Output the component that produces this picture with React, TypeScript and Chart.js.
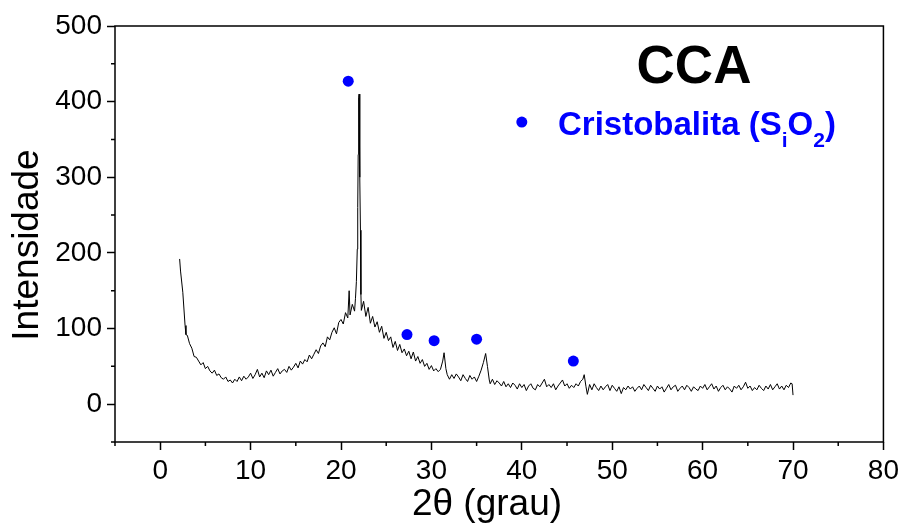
import { useEffect, useRef } from 'react';
import { Chart, registerables } from 'chart.js';

Chart.register(...registerables);

// 2θ (degrees) of the scan
const twoTheta: number[] = [
  2.15, 2.25, 2.5, 2.75, 2.85,
  3, 3.25, 3.5, 3.75,
  4, 4.25, 4.5, 4.75,
  5, 5.25, 5.5, 5.75,
  6, 6.25, 6.5, 6.75,
  7, 7.25, 7.5, 7.75,
  8, 8.25, 8.5, 8.75,
  9, 9.25, 9.5, 9.75,
  10, 10.25, 10.5, 10.75,
  11, 11.25, 11.5, 11.75,
  12, 12.25, 12.5, 12.75,
  13, 13.25, 13.5, 13.75,
  14, 14.25, 14.5, 14.75,
  15, 15.25, 15.5, 15.75,
  16, 16.25, 16.5, 16.75,
  17, 17.25, 17.5, 17.75,
  18, 18.25, 18.5, 18.75,
  19, 19.25, 19.5, 19.75,
  20, 20.25, 20.5, 20.75, 20.9,
  21, 21.25, 21.5, 21.6, 21.7, 21.8, 21.85, 21.9, 21.95,
  22, 22.05, 22.1, 22.15, 22.2, 22.25, 22.5, 22.75,
  23, 23.25, 23.5, 23.75,
  24, 24.25, 24.5, 24.75,
  25, 25.25, 25.5, 25.75,
  26, 26.25, 26.5, 26.75,
  27, 27.25, 27.5, 27.75,
  28, 28.25, 28.5, 28.75,
  29, 29.25, 29.5, 29.75,
  30, 30.25, 30.5, 30.75,
  31, 31.25, 31.4, 31.6, 31.75,
  32, 32.25, 32.5, 32.75,
  33, 33.25, 33.5, 33.75,
  34, 34.25, 34.5, 34.75,
  35, 35.25, 35.5, 35.75, 36, 36.2, 36.4, 36.5, 36.75,
  37, 37.25, 37.5, 37.75,
  38, 38.25, 38.5, 38.75,
  39, 39.25, 39.5, 39.75,
  40, 40.25, 40.5, 40.75,
  41, 41.25, 41.5, 41.75,
  42, 42.25, 42.5, 42.75,
  43, 43.25, 43.5, 43.75,
  44, 44.25, 44.5, 44.75,
  45, 45.25, 45.5, 45.75,
  46, 46.25, 46.5, 46.75, 46.9, 47.1, 47.25, 47.5, 47.75,
  48, 48.25, 48.5, 48.75,
  49, 49.25, 49.5, 49.75,
  50, 50.25, 50.5, 50.75,
  51, 51.25, 51.5, 51.75,
  52, 52.25, 52.5, 52.75,
  53, 53.25, 53.5, 53.75,
  54, 54.25, 54.5, 54.75,
  55, 55.25, 55.5, 55.75,
  56, 56.25, 56.5, 56.75,
  57, 57.25, 57.5, 57.75,
  58, 58.25, 58.5, 58.75,
  59, 59.25, 59.5, 59.75,
  60, 60.25, 60.5, 60.75,
  61, 61.25, 61.5, 61.75,
  62, 62.25, 62.5, 62.75,
  63, 63.25, 63.5, 63.75,
  64, 64.25, 64.5, 64.75,
  65, 65.25, 65.5, 65.75,
  66, 66.25, 66.5, 66.75,
  67, 67.25, 67.5, 67.75,
  68, 68.25, 68.5, 68.75,
  69, 69.25, 69.5, 69.75, 69.9, 70,
];

// Intensity (same order as twoTheta)
const intensity: number[] = [
  192, 176, 148, 104, 92,
  91, 80, 74, 63,
  62, 57, 52, 55,
  47, 50, 44, 41,
  45, 38, 40, 35,
  33, 36, 30, 32,
  28, 33, 30, 36,
  31, 37, 33, 36,
  41, 34, 39, 46,
  36, 41, 35, 44,
  39, 45, 37, 42,
  47, 40, 44, 46,
  42, 50, 45, 49,
  54, 48, 57, 53,
  59, 56, 65, 60,
  66, 72, 67, 77,
  81, 76, 89, 85,
  95, 101, 93, 108,
  112, 106, 121, 114, 150,
  118, 132, 123, 140, 162, 205, 260, 330, 405,
  410, 395, 300, 230, 145, 124, 136, 116,
  128, 107, 116, 102,
  109, 95, 103, 87,
  95, 84, 89, 75,
  83, 71, 79, 68,
  73, 64, 70, 60,
  69, 57, 63, 54,
  59, 50, 54, 46,
  51, 44, 47, 43,
  46, 57, 68, 47, 39,
  33, 39, 34, 40,
  36, 31, 39, 34,
  30, 38, 33, 36,
  30, 37, 45, 55, 67, 50, 32, 27, 33,
  26, 31, 28, 24,
  30, 23, 27, 22,
  28, 25, 20, 27,
  22, 26, 18, 24,
  27, 21, 19, 26,
  23, 28, 33, 23,
  26, 22, 27, 19,
  24, 28, 32, 24,
  27, 21, 25, 22,
  27, 24, 30, 33, 39, 23, 13, 26, 19,
  27, 22, 18, 24,
  19, 23, 26, 18,
  25, 21, 17, 23,
  14, 22, 19, 24,
  20, 23, 17, 21,
  24, 19, 26, 22,
  18, 25, 21, 17,
  24, 20, 23, 16,
  21, 26, 19, 23,
  25, 17, 21, 24,
  19, 25, 22, 17,
  23, 20, 18, 24,
  21, 26, 19, 23,
  27, 20, 24, 17,
  22, 25, 19, 23,
  20, 16, 24, 21,
  25, 19, 23, 29,
  21, 24, 18, 22,
  19, 25, 21, 18,
  24, 20, 26, 19,
  23, 27, 20, 24,
  19, 25, 22, 28, 27, 12,
];

// Cristobalita markers
const markTheta: number[] = [20.8, 27.3, 30.3, 35.0, 45.7];
const markIntensity: number[] = [427, 92, 84, 86, 57];

// Legend marker position (data units)
const legendMarkTheta: number[] = [40.0];
const legendMarkIntensity: number[] = [373];

const xRange: number[] = [-5, 80];
const yRange: number[] = [-50, 500];
const xMajorTicks: number[] = [0, 10, 20, 30, 40, 50, 60, 70, 80];
const xTickLabels: string[] = ['0', '10', '20', '30', '40', '50', '60', '70', '80'];
const xMinorTicks: number[] = [-5, 5, 15, 25, 35, 45, 55, 65, 75];
const yMajorTicks: number[] = [0, 100, 200, 300, 400, 500];
const yTickLabels: string[] = ['0', '100', '200', '300', '400', '500'];
const yMinorTicks: number[] = [-50, 50, 150, 250, 350, 450];

const chartTitle = 'CCA';
const legendParts: { text: string; sub: boolean }[] = [
  { text: 'Cristobalita (S', sub: false },
  { text: 'i', sub: true },
  { text: 'O', sub: false },
  { text: '2', sub: true },
  { text: ')', sub: false },
];
const xTitle = '2θ (grau)';
const yTitle = 'Intensidade';

const FONT = '"Liberation Sans", Arial, Helvetica, sans-serif';

export default function App() {
  const ref = useRef<HTMLCanvasElement>(null);

  useEffect(() => {
    document.body.style.margin = '0';
    const canvas = ref.current;
    if (!canvas) return;

    const n = Math.min(twoTheta.length, intensity.length);
    const lineData = [] as { x: number; y: number }[];
    for (let i = 0; i < n; i++) lineData.push({ x: twoTheta[i], y: intensity[i] });
    const marks = markTheta.map((x, i) => ({ x, y: markIntensity[i] }));
    const legendMark = legendMarkTheta.map((x, i) => ({ x, y: legendMarkIntensity[i] }));

    const decor = {
      id: 'decor',
      afterDraw(chart: any) {
        const { ctx, chartArea } = chart;
        const xs = chart.scales.x;
        const ys = chart.scales.y;
        ctx.save();
        // frame
        ctx.strokeStyle = '#000';
        ctx.lineWidth = 1.5;
        ctx.strokeRect(chartArea.left, chartArea.top, chartArea.right - chartArea.left, chartArea.bottom - chartArea.top);
        // minor ticks
        ctx.beginPath();
        xMinorTicks.forEach((v) => {
          const px = xs.getPixelForValue(v);
          ctx.moveTo(px, chartArea.bottom);
          ctx.lineTo(px, chartArea.bottom + 4);
        });
        yMinorTicks.forEach((v) => {
          const py = ys.getPixelForValue(v);
          ctx.moveTo(chartArea.left - 4, py);
          ctx.lineTo(chartArea.left, py);
        });
        ctx.stroke();

        // title
        ctx.fillStyle = '#000';
        ctx.font = `bold 53px ${FONT}`;
        ctx.textAlign = 'center';
        ctx.textBaseline = 'alphabetic';
        ctx.fillText(chartTitle, 694, 83);

        // legend text
        ctx.fillStyle = '#0000ff';
        ctx.textAlign = 'left';
        let lx = 558;
        legendParts.forEach((p) => {
          ctx.font = p.sub ? `bold 21px ${FONT}` : `bold 33px ${FONT}`;
          ctx.fillText(p.text, lx, p.sub ? 147 : 135);
          lx += ctx.measureText(p.text).width;
        });

        // axis titles
        ctx.fillStyle = '#000';
        ctx.font = `37px ${FONT}`;
        ctx.textAlign = 'center';
        ctx.fillText(xTitle, 487, 515);

        ctx.translate(28, 245);
        ctx.rotate(-Math.PI / 2);
        ctx.textBaseline = 'middle';
        ctx.fillText(yTitle, 0, 0);
        ctx.restore();
      },
    };

    const chart = new Chart(canvas, {
      type: 'scatter',
      data: {
        datasets: [
          {
            type: 'scatter',
            data: marks,
            pointRadius: 5.5,
            backgroundColor: '#0000ff',
            borderWidth: 0,
            order: 1,
          },
          {
            type: 'scatter',
            data: legendMark,
            pointRadius: 5.5,
            backgroundColor: '#0000ff',
            borderWidth: 0,
            order: 1,
          },
          {
            type: 'line',
            data: lineData,
            borderColor: '#000',
            borderWidth: 1,
            pointRadius: 0,
            tension: 0,
            fill: false,
            order: 2,
          } as any,
        ],
      },
      options: {
        animation: false,
        responsive: false,
        events: [],
        layout: { padding: { top: 26, right: 18, left: 0, bottom: 0 } },
        plugins: {
          legend: { display: false },
          tooltip: { enabled: false },
          title: { display: false },
        },
        scales: {
          x: {
            type: 'linear',
            min: xRange[0],
            max: xRange[1],
            afterBuildTicks: (s: any) => {
              s.ticks = xMajorTicks.map((v) => ({ value: v }));
            },
            afterFit: (s: any) => {
              s.height = 86;
            },
            grid: {
              display: true,
              drawOnChartArea: false,
              drawTicks: true,
              tickLength: 8,
              tickColor: '#000',
              tickWidth: 1.5,
            },
            border: { display: false },
            ticks: {
              color: '#000',
              font: { family: FONT, size: 28 },
              padding: 4,
              maxRotation: 0,
              autoSkip: false,
              callback: (v: any) => {
                const i = xMajorTicks.indexOf(Number(v));
                return i >= 0 ? xTickLabels[i] : '';
              },
            },
          },
          y: {
            type: 'linear',
            min: yRange[0],
            max: yRange[1],
            afterBuildTicks: (s: any) => {
              s.ticks = yMajorTicks.map((v) => ({ value: v }));
            },
            afterFit: (s: any) => {
              s.width = 115;
            },
            grid: {
              display: true,
              drawOnChartArea: false,
              drawTicks: true,
              tickLength: 8,
              tickColor: '#000',
              tickWidth: 1.5,
            },
            border: { display: false },
            ticks: {
              color: '#000',
              font: { family: FONT, size: 28 },
              padding: 5,
              autoSkip: false,
              callback: (v: any) => {
                const i = yMajorTicks.indexOf(Number(v));
                return i >= 0 ? yTickLabels[i] : '';
              },
            },
          },
        },
      },
      plugins: [decor],
    } as any);

    return () => chart.destroy();
  }, []);

  return (
    <div style={{ width: 903, height: 528 }}>
      <canvas ref={ref} width={903} height={528} style={{ display: 'block' }} />
    </div>
  );
}
